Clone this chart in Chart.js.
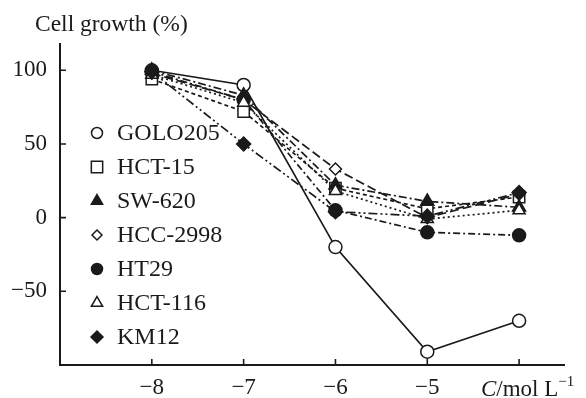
<!DOCTYPE html>
<html>
<head>
<meta charset="utf-8">
<script src="https://cdn.jsdelivr.net/npm/chart.js@4.4.0/dist/chart.umd.min.js"></script>
<style>
html,body{margin:0;padding:0;background:#fff;}
#wrap{position:relative;width:586px;height:398px;}
</style>
</head>
<body>
<div id="wrap"><canvas id="c" width="586" height="398"></canvas></div>
<script>
// ---- data ----
const concentrations = [-8, -7, -6, -5, -4];
const xTickValues = [-8, -7, -6, -5, -4];
const yTickValues = [-50, 0, 50, 100];
const seriesNames = ['GOLO205', 'HCT-15', 'SW-620', 'HCC-2998', 'HT29', 'HCT-116', 'KM12'];
const golo205 = [100, 90, -20, -91, -70];
const hct15   = [94, 72, 20, 6, 14];
const sw620   = [100, 83, 22, 11, 7];
const hcc2998 = [98, 80, 33, 0, 16];
const ht29    = [99, 80, 5, -10, -12];
const hct116  = [97, 78, 18, -1, 5];
const km12    = [99, 50, 4, 1, 17];

const FONT = '"Liberation Serif", "Times New Roman", serif';
const INK = '#1a1a1a';

function mk(name, vals, style, filled, dash, radius, legendRadius) {
  return {
    label: name,
    data: concentrations.map((x, i) => ({x: x, y: vals[i]})),
    borderColor: INK,
    backgroundColor: filled ? INK : '#ffffff',
    pointBackgroundColor: filled ? INK : '#ffffff',
    pointBorderColor: INK,
    pointBorderWidth: 1.5,
    pointStyle: style,
    pointRadius: radius,
    legendRadius: legendRadius,
    borderWidth: 1.7,
    borderDash: dash,
    tension: 0,
    fill: false
  };
}

const datasets = [
  mk(seriesNames[6], km12, 'rectRot', true, [9,3,2,3,2,3], 7, 6),
  mk(seriesNames[5], hct116, 'triangle', false, [2,3], 7, 6.5),
  mk(seriesNames[4], ht29, 'circle', true, [7,3,2,3], 6.5, 5.5),
  mk(seriesNames[3], hcc2998, 'rectRot', false, [9,4], 6, 5),
  mk(seriesNames[2], sw620, 'triangle', true, [8,3,2,3], 7.5, 6.5),
  mk(seriesNames[1], hct15, 'rect', false, [4,3], 8, 8),
  mk(seriesNames[0], golo205, 'circle', false, [], 6.5, 5.5)
];

const legendOrder = [6,5,4,3,2,1,0];

const overlay = {
  id: 'overlay',
  afterDraw(chart) {
    const ctx = chart.ctx;
    const xs = chart.scales.x, ys = chart.scales.y;
    const area = chart.chartArea;
    ctx.save();
    // axis lines
    ctx.strokeStyle = INK;
    ctx.lineWidth = 2;
    ctx.beginPath();
    ctx.moveTo(area.left, area.top);
    ctx.lineTo(area.left, area.bottom);
    ctx.lineTo(area.right, area.bottom);
    ctx.stroke();
    // inward ticks
    ctx.lineWidth = 1.6;
    ctx.beginPath();
    xTickValues.forEach(v => {
      const px = xs.getPixelForValue(v);
      ctx.moveTo(px, area.bottom);
      ctx.lineTo(px, area.bottom - 6);
    });
    yTickValues.forEach(v => {
      const py = ys.getPixelForValue(v);
      ctx.moveTo(area.left, py);
      ctx.lineTo(area.left + 6, py);
    });
    ctx.stroke();

    // y axis title
    ctx.fillStyle = INK;
    ctx.font = '23.5px ' + FONT;
    ctx.textAlign = 'left';
    ctx.textBaseline = 'alphabetic';
    ctx.fillText('Cell growth (%)', 35, 31);

    // x axis title at -4 position
    const ty = 396;
    ctx.font = 'italic 23px ' + FONT;
    let x0 = 481;
    ctx.fillText('C', x0, ty);
    x0 += ctx.measureText('C').width;
    ctx.font = '23px ' + FONT;
    ctx.fillText('/mol L', x0, ty);
    x0 += ctx.measureText('/mol L').width;
    ctx.font = '15px ' + FONT;
    ctx.fillText('\u22121', x0, ty - 10);

    // legend
    const lx = 97, ly0 = 133, step = 34;
    legendOrder.forEach((di, k) => {
      const ds = chart.data.datasets[di];
      const y = ly0 + k * step;
      ctx.fillStyle = ds.pointBackgroundColor;
      ctx.strokeStyle = INK;
      ctx.lineWidth = 1.5;
      Chart.helpers.drawPoint(ctx, {pointStyle: ds.pointStyle, radius: ds.legendRadius, borderWidth: 1.5, rotation: 0}, lx, y);
      ctx.fillStyle = INK;
      ctx.font = '24px ' + FONT;
      ctx.textBaseline = 'middle';
      ctx.fillText(ds.label, 117, y + 1);
    });
    ctx.restore();
  }
};

new Chart(document.getElementById('c'), {
  type: 'line',
  data: { datasets: datasets },
  options: {
    responsive: false,
    animation: false,
    layout: { padding: { left: 0, top: 43, right: 21, bottom: 0 } },
    plugins: { legend: { display: false }, tooltip: { enabled: false } },
    scales: {
      x: {
        type: 'linear',
        min: -9, max: -3.5,
        afterBuildTicks: s => { s.ticks = xTickValues.map(v => ({value: v})); },
        afterFit: s => { s.height = 33; },
        grid: { display: false, drawTicks: false },
        border: { display: false },
        ticks: {
          padding: 9,
          color: INK,
          font: { family: FONT, size: 23 },
          callback: v => v === -4 ? '' : '\u2212' + Math.abs(v)
        }
      },
      y: {
        type: 'linear',
        min: -100, max: 118.5,
        afterBuildTicks: s => { s.ticks = yTickValues.map(v => ({value: v})); },
        afterFit: s => { s.width = 60; },
        grid: { display: false, drawTicks: false },
        border: { display: false },
        ticks: {
          padding: 13,
          color: INK,
          font: { family: FONT, size: 23 },
          callback: v => v < 0 ? '\u2212' + Math.abs(v) : String(v)
        }
      }
    }
  },
  plugins: [overlay]
});
</script>
</body>
</html>
